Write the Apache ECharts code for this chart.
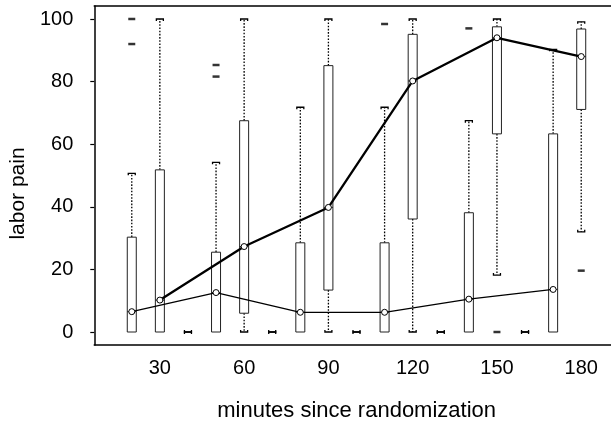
<!DOCTYPE html>
<html>
<head>
<meta charset="utf-8">
<script src="https://cdn.jsdelivr.net/npm/echarts@6/dist/echarts.min.js"></script>
<style>
html,body{margin:0;padding:0;background:#fff;}
#main{width:611px;height:428px;}
</style>
</head>
<body>
<div id="main"></div>
<script>
// minutes of each box
var treatMinutes = [20, 50, 80, 110, 140, 170];
var placeboMinutes = [30, 60, 90, 120, 150, 180];
var zeroMinutes = [40, 70, 100, 130, 160];

// [low whisker, q1, median, q3, high whisker]
var treatStats = [
    [0, 0, 6.5, 30.3, 50.7],
    [0, 0, 12.6, 25.5, 54.2],
    [0, 0, 6.3, 28.5, 71.8],
    [0, 0, 6.3, 28.5, 71.8],
    [0, 0, 10.5, 38.1, 67.5],
    [0, 0, 13.6, 63.3, 90.3]
];
var placeboStats = [
    [0, 0, 10.2, 51.8, 100],
    [0, 6, 27.3, 67.5, 100],
    [0, 13.4, 39.8, 85.1, 100],
    [0, 36.1, 80.2, 95.1, 100],
    [18.2, 63.3, 94, 97.5, 100],
    [32, 71.1, 88, 96.8, 99.1]
];
var zeroStats = [0, 0, 0, 0, 0];

var outlierMinutes = [20, 20, 50, 50, 110, 140, 150, 180];
var outlierValues = [100, 92, 85.3, 81.6, 98.4, 97, 0, 19.6];

var yTicks = [0, 20, 40, 60, 80, 100];
var xTicks = [30, 60, 90, 120, 150, 180];

var boxData = [];
treatMinutes.forEach(function (m, i) { boxData.push([m].concat(treatStats[i])); });
placeboMinutes.forEach(function (m, i) { boxData.push([m].concat(placeboStats[i])); });
zeroMinutes.forEach(function (m) { boxData.push([m].concat(zeroStats)); });

var outliers = outlierMinutes.map(function (m, i) { return [m, outlierValues[i]]; });

function medians(mins, stats) {
    return mins.map(function (m, i) { return [m, stats[i][2]]; });
}

function renderBox(params, api) {
    var x = api.coord([api.value(0), 0])[0];
    var yLow = api.coord([0, api.value(1)])[1];
    var yQ1 = api.coord([0, api.value(2)])[1];
    var yMed = api.coord([0, api.value(3)])[1];
    var yQ3 = api.coord([0, api.value(4)])[1];
    var yHigh = api.coord([0, api.value(5)])[1];
    var hw = 4.5, cw = 3.5;
    var dot = {stroke: '#000', lineWidth: 1.3, lineDash: [1.6, 1.6]};
    var solid = {stroke: '#000', lineWidth: 1.3, fill: null};
    var kids = [];
    if (api.value(5) > api.value(4)) {
        kids.push({type: 'line', shape: {x1: x, y1: yQ3, x2: x, y2: yHigh}, style: dot});
    }
    if (api.value(1) < api.value(2)) {
        kids.push({type: 'line', shape: {x1: x, y1: yQ1, x2: x, y2: yLow}, style: dot});
    }
    // caps (also the flat "H" when the whole box is zero)
    if (api.value(5) > api.value(4) || api.value(4) == api.value(2)) {
        kids.push({type: 'polyline', shape: {points: [[x - cw, yHigh + 2], [x - cw, yHigh], [x + cw, yHigh], [x + cw, yHigh + 2]]}, style: solid});
    }
    if (api.value(1) < api.value(2) || api.value(4) == api.value(2)) {
        kids.push({type: 'polyline', shape: {points: [[x - cw, yLow - 2], [x - cw, yLow], [x + cw, yLow], [x + cw, yLow - 2]]}, style: solid});
    }
    if (api.value(4) > api.value(2)) {
        kids.push({type: 'rect', shape: {x: x - hw, y: yQ3, width: hw * 2, height: yQ1 - yQ3},
            style: {fill: '#fff', stroke: '#222', lineWidth: 1}});
        kids.push({type: 'line', shape: {x1: x - hw, y1: yMed, x2: x + hw, y2: yMed}, style: {stroke: '#222', lineWidth: 1}});
    }
    return {type: 'group', children: kids};
}

var frameLine = {show: true, onZero: false, lineStyle: {color: '#000', width: 1.5}};

var option = {
    animation: false,
    backgroundColor: '#fff',
    grid: {left: 91, right: 0, top: 6, bottom: 83},
    xAxis: [
        {
            type: 'value',
            min: 6.65,
            max: 190.6,
            splitLine: {show: false},
            axisLine: frameLine,
            axisTick: {show: false},
            axisLabel: {customValues: xTicks, margin: 13, fontSize: 20, color: '#000', fontFamily: 'Liberation Sans'},
            name: 'minutes since randomization',
            nameLocation: 'middle',
            nameGap: 55,
            nameTextStyle: {fontSize: 22, color: '#000', fontFamily: 'Liberation Sans', padding: [0, 0, 0, 8]}
        },
        {
            type: 'value',
            position: 'top',
            min: 6.65,
            max: 190.6,
            splitLine: {show: false},
            axisLine: frameLine,
            axisTick: {show: false},
            axisLabel: {show: false}
        }
    ],
    yAxis: {
        type: 'value',
        min: -4.15,
        max: 104.15,
        splitLine: {show: false},
        axisLine: frameLine,
        axisTick: {show: true, customValues: yTicks, length: 4, lineStyle: {color: '#000', width: 1.2}},
        axisLabel: {customValues: yTicks, margin: 21, fontSize: 20, color: '#000', fontFamily: 'Liberation Sans'},
        name: 'labor pain',
        nameLocation: 'middle',
        nameGap: 64,
        nameTextStyle: {fontSize: 21, color: '#000', fontFamily: 'Liberation Sans', padding: [0, 36, 0, 0]}
    },
    series: [
        {
            type: 'custom',
            renderItem: renderBox,
            data: boxData,
            z: 2
        },
        {
            type: 'scatter',
            symbol: 'rect',
            symbolSize: [7, 2.5],
            itemStyle: {color: '#000'},
            data: outliers,
            z: 3
        },
        {
            name: 'placebo',
            type: 'line',
            data: medians(placeboMinutes, placeboStats),
            symbol: 'circle',
            symbolSize: 6,
            lineStyle: {color: '#000', width: 2.3},
            itemStyle: {color: '#fff', borderColor: '#000', borderWidth: 1},
            z: 4
        },
        {
            name: 'treatment',
            type: 'line',
            data: medians(treatMinutes, treatStats),
            symbol: 'circle',
            symbolSize: 6,
            lineStyle: {color: '#000', width: 1.3},
            itemStyle: {color: '#fff', borderColor: '#000', borderWidth: 1},
            z: 4
        }
    ]
};

var chart = echarts.init(document.getElementById('main'));
chart.setOption(option);
</script>
</body>
</html>
